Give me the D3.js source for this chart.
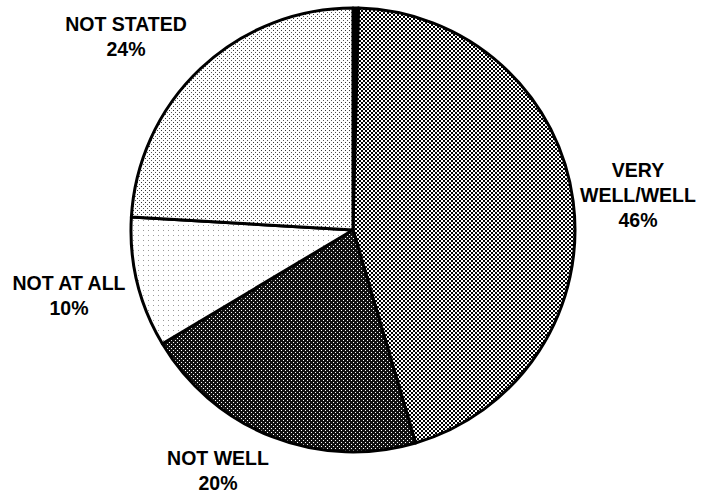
<!DOCTYPE html>
<html><head><meta charset="utf-8">
<script src="https://cdn.jsdelivr.net/npm/d3@7"></script>
<style>body{margin:0;background:#fff}svg{display:block}</style>
</head><body>
<svg id="c" width="701" height="495"></svg>
<script>
const categories = ["", "VERY WELL/WELL", "NOT WELL", "NOT AT ALL", "NOT STATED"];
const values = [0.4, 45.1, 21.0, 9.5, 24.1];
const labelLines = [[], ["VERY", "WELL/WELL", "46%"], ["NOT WELL", "20%"], ["NOT AT ALL", "10%"], ["NOT STATED", "24%"]];

const svg = d3.select("#c");
const defs = svg.append("defs");
function pat(id, size, bg, dots) {
  const p = defs.append("pattern").attr("id", id).attr("patternUnits", "userSpaceOnUse")
    .attr("width", size).attr("height", size);
  p.append("rect").attr("width", size).attr("height", size).attr("fill", bg);
  dots.forEach(d => p.append("rect").attr("x", d[0]).attr("y", d[1]).attr("width", d[2]).attr("height", d[2]).attr("fill", d[3]));
}
pat("p1", 4, "#fff", [[0,0,2,"#000"],[2,2,2,"#000"]]);
pat("p2", 4, "#111", [[0,0,1,"#fff"],[2,2,1,"#fff"]]);
pat("p3", 5, "#fff", [[0,0,1,"#999"]]);
pat("p4", 4, "#fff", [[0,0,1,"#333"],[2,2,1,"#555"]]);
const fills = ["#000", "url(#p1)", "url(#p2)", "url(#p3)", "url(#p4)"];

const cx = 353, cy = 230, r = 222;
const pie = d3.pie().sort(null).value(d => d)(values);
const arc = d3.arc().innerRadius(0).outerRadius(r);
const g = svg.append("g").attr("transform", `translate(${cx},${cy})`);
g.selectAll("path").data(pie).join("path")
  .attr("d", arc).attr("fill", (d, i) => fills[i])
  .attr("stroke", "#000").attr("stroke-width", 3).attr("stroke-linejoin", "round");

const labelPos = [null, [638, 177], [218, 465], [69, 290], [126, 31]];
labelLines.forEach((lines, i) => {
  if (!lines.length) return;
  const t = svg.append("text").attr("text-anchor", "middle")
    .attr("font-family", "Liberation Sans, Arial, sans-serif").attr("font-weight", "bold")
    .attr("font-size", 19.5).attr("fill", "#000");
  lines.forEach((l, j) => t.append("tspan").attr("x", labelPos[i][0]).attr("y", labelPos[i][1] + j * 25).text(l));
});
</script>
</body></html>
